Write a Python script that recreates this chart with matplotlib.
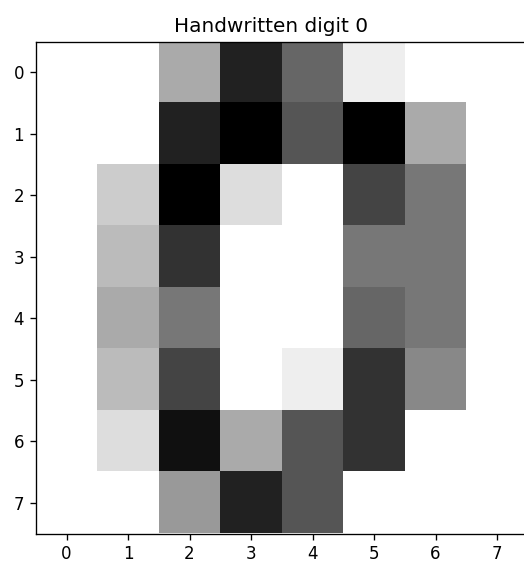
import matplotlib
matplotlib.use("Agg")
import matplotlib.pyplot as plt
import numpy as np

# 8x8 pixel intensities (0-16 scale) of the first "0" sample
row0 = [0, 0, 5, 13, 9, 1, 0, 0]
row1 = [0, 0, 13, 15, 10, 15, 5, 0]
row2 = [0, 3, 15, 2, 0, 11, 8, 0]
row3 = [0, 4, 12, 0, 0, 8, 8, 0]
row4 = [0, 5, 8, 0, 0, 9, 8, 0]
row5 = [0, 4, 11, 0, 1, 12, 7, 0]
row6 = [0, 2, 14, 5, 10, 12, 0, 0]
row7 = [0, 0, 6, 13, 10, 0, 0, 0]

digit = np.array([row0, row1, row2, row3, row4, row5, row6, row7])
label = 0

W, H = 524, 563
fig = plt.figure(figsize=(W / 120, H / 120), dpi=120)
ax = fig.add_axes([35.5 / W, (H - 533.5) / H, 492.5 / W, 492 / H])

ax.imshow(digit, cmap="gray_r")
ax.set_xticks(range(8))
ax.set_yticks(range(8))
ax.set_title(f"Handwritten digit {label}", x=0.478)

fig.savefig("out.png", dpi=120)
